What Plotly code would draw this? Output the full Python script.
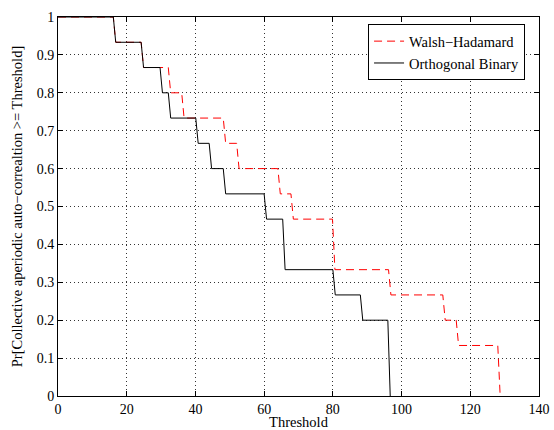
import plotly.graph_objects as go

# Threshold values where each step down begins, and the probability level after each drop
wh_thresholds = [16.1, 24.2, 32.1, 36.0, 48.1, 52.0, 64.0, 67.8, 79.9, 96.2, 112.0, 115.9, 128.0]
wh_levels = [14/15, 13/15, 12/15, 11/15, 10/15, 9/15, 8/15, 7/15, 5/15, 4/15, 3/15, 2/15, 0.0]

ob_thresholds = [16.1, 24.2, 29.7, 32.1, 40.1, 44.0, 48.1, 60.0, 65.4, 80.0, 88.0, 96.0]
ob_levels = [14/15, 13/15, 12/15, 11/15, 10/15, 9/15, 8/15, 7/15, 5/15, 4/15, 3/15, 0.0]

drop_width = 0.7
x_start = 0.0
y_start = 1.0

x_ticks = [0, 20, 40, 60, 80, 100, 120, 140]
y_ticks = [0, 0.1, 0.2, 0.3, 0.4, 0.5, 0.6, 0.7, 0.8, 0.9, 1]
y_ticktext = ["0", "0.1", "0.2", "0.3", "0.4", "0.5", "0.6", "0.7", "0.8", "0.9", "1"]


def step_points(thresholds, levels):
    xs, ys = [x_start], [y_start]
    prev = y_start
    for t, lv in zip(thresholds, levels):
        xs += [t, t + drop_width]
        ys += [prev, lv]
        prev = lv
    return xs, ys


wx, wy = step_points(wh_thresholds, wh_levels)
ox, oy = step_points(ob_thresholds, ob_levels)

font = "Liberation Serif"

fig = go.Figure()
fig.add_trace(go.Scatter(x=wx, y=wy, mode="lines", name="Walsh\u2212Hadamard",
                         line=dict(color="#ff0000", width=1, dash="8px,5px")))
fig.add_trace(go.Scatter(x=ox, y=oy, mode="lines", name="Orthogonal Binary",
                         line=dict(color="#000000", width=1)))

axis_common = dict(
    showline=True, linecolor="black", linewidth=1, mirror="ticks",
    ticks="inside", ticklen=5, tickcolor="black", tickwidth=1,
    showgrid=True, gridcolor="#333333", gridwidth=1, griddash="1px,3px",
    zeroline=False, automargin=False,
    tickfont=dict(family=font, size=14, color="black"),
)

fig.update_xaxes(range=[0, 140], tickvals=x_ticks,
                 title=dict(text="Threshold", font=dict(family=font, size=14.5, color="black"), standoff=0),
                 **axis_common)
fig.update_yaxes(range=[0, 1], tickvals=y_ticks, ticktext=y_ticktext,
                 title=dict(text="Pr[Collective aperiodic auto\u2212correaltion >= Threshold]",
                            font=dict(family=font, size=14.5, color="black"), standoff=10),
                 **axis_common)

fig.update_layout(
    width=554, height=430,
    margin=dict(l=58, r=15, t=17, b=34),
    paper_bgcolor="white", plot_bgcolor="white",
    font=dict(family=font, size=14, color="black"),
    legend=dict(x=0.971, y=0.981, xanchor="right", yanchor="top",
                bgcolor="white", bordercolor="black", borderwidth=1,
                font=dict(family=font, size=14.5, color="black"),
                tracegroupgap=0),
    showlegend=True,
)

fig.write_html("out.html")
